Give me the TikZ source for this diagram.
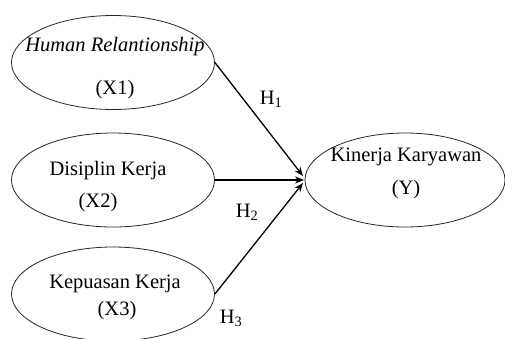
\documentclass[tikz,border=0pt]{standalone}
\usepackage{fontspec}
\setmainfont{Liberation Serif}
\usetikzlibrary{shapes.geometric,arrows.meta}
\begin{document}
\begin{tikzpicture}[x=1pt,y=-1pt,
  var/.style={draw=black!85, line width=0.8pt, ellipse, minimum width=203pt, minimum height=94pt, inner sep=0pt},
  lbl/.style={font=\fontsize{20.5}{24}\selectfont, inner sep=0pt, anchor=center},
  path/.style={draw, line width=1.3pt, -{Stealth[length=9pt,width=7pt]}}]
\useasboundingbox (0,0) rectangle (505,338);
\node[var] (x1) at (113,62.5) {};
\node[var] (x2) at (113,180) {};
\node[var] (x3) at (113,294) {};
\node[var, minimum width=200pt, minimum height=94pt] (y) at (405,180) {};
\node[lbl, font=\fontsize{20.5}{24}\selectfont\itshape] (t1) at (115,47) {Human Relantionship};
\node[lbl] (t1b) at (115,90) {(X1)};
\node[lbl] (t2) at (108,171) {Disiplin Kerja};
\node[lbl] (t2b) at (98,203) {(X2)};
\node[lbl] (t3) at (115,284) {Kepuasan Kerja};
\node[lbl] (t3b) at (117,311) {(X3)};
\node[lbl] (ty) at (406,157) {Kinerja Karyawan};
\node[lbl] (tyb) at (406,190) {(Y)};
\coordinate (e1) at (303,176);
\coordinate (e2) at (304,180);
\coordinate (e3) at (303,183);
\draw[path] (x1.east) -- (e1);
\draw[path] (x2.east) -- (e2);
\draw[path] (x3.east) -- (e3);
\node[lbl] (h1) at (271,99) {H\textsubscript{1}};
\node[lbl] (h2) at (247,212) {H\textsubscript{2}};
\node[lbl] (h3) at (231,318) {H\textsubscript{3}};
\end{tikzpicture}
\end{document}
